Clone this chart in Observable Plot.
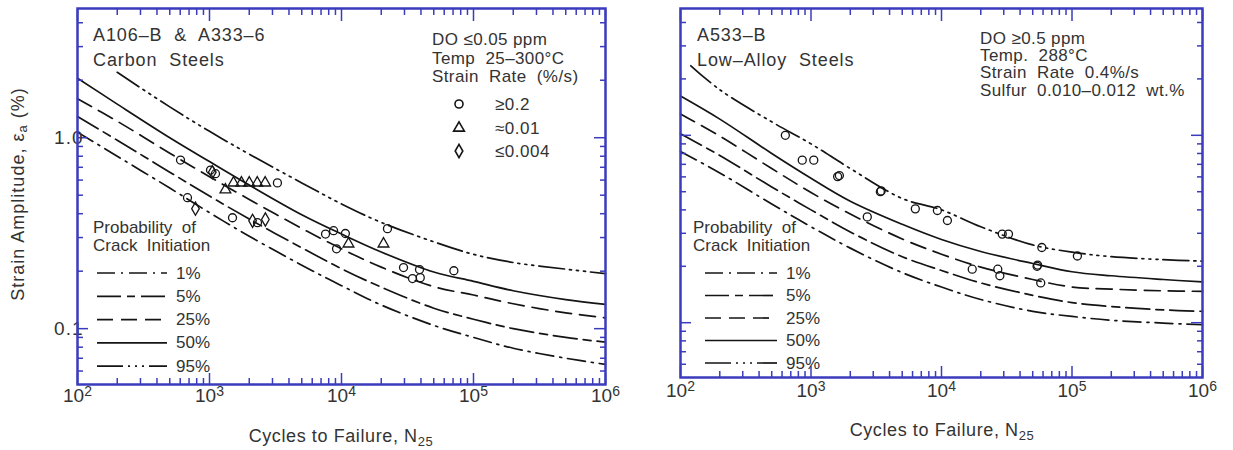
<!DOCTYPE html>
<html>
<head>
<meta charset="utf-8">
<script src="https://cdn.jsdelivr.net/npm/d3@7"></script>
<script src="https://cdn.jsdelivr.net/npm/@observablehq/plot@0.6"></script>
<style>
html,body{margin:0;padding:0;background:#fff;}
#wrap{display:flex;width:1233px;height:450px;overflow:hidden;background:#fff;}
#wrap svg{display:block;flex:none;}
</style>
</head>
<body>
<div id="wrap"></div>
<script>
// ---------------- data ----------------
const curveCycles    = [100, 200, 500, 1000, 2000, 5000, 1e4, 2e4, 5e4, 1e5, 2e5, 5e5, 1e6];
const carbon95Cycles = [200, 500, 1000, 2000, 5000, 1e4, 2e4, 5e4, 1e5, 2e5, 5e5, 1e6];
const alloy95Cycles  = [120, 200, 500, 1000, 2000, 5000, 1e4, 2e4, 5e4, 1e5, 2e5, 5e5, 1e6];
const probLabels = ["1%", "5%", "25%", "50%", "95%"];

// Carbon steels (left panel), strain amplitude %
const carbonP1  = [1.07, 0.80, 0.545, 0.405, 0.305, 0.215, 0.168, 0.133, 0.104, 0.090, 0.079, 0.070, 0.065];
const carbonP5  = [1.29, 0.97, 0.66, 0.495, 0.375, 0.265, 0.206, 0.165, 0.128, 0.112, 0.100, 0.090, 0.085];
const carbonP25 = [1.60, 1.22, 0.83, 0.625, 0.475, 0.335, 0.262, 0.210, 0.166, 0.150, 0.135, 0.121, 0.114];
const carbonP50 = [2.05, 1.50, 1.00, 0.75, 0.565, 0.395, 0.313, 0.252, 0.198, 0.177, 0.158, 0.142, 0.134];
const carbonP95 = [2.20, 1.45, 1.08, 0.82, 0.58, 0.45, 0.36, 0.285, 0.245, 0.222, 0.205, 0.194];

// Low-alloy steels (right panel)
const alloyP1  = [0.82, 0.63, 0.43, 0.325, 0.25, 0.185, 0.155, 0.133, 0.115, 0.108, 0.103, 0.0995, 0.0975];
const alloyP5  = [1.02, 0.78, 0.53, 0.40, 0.305, 0.225, 0.19, 0.163, 0.140, 0.128, 0.122, 0.117, 0.115];
const alloyP25 = [1.30, 0.99, 0.665, 0.495, 0.38, 0.28, 0.232, 0.198, 0.170, 0.155, 0.151, 0.148, 0.147];
const alloyP50 = [1.62, 1.22, 0.80, 0.59, 0.445, 0.335, 0.278, 0.24, 0.207, 0.187, 0.178, 0.170, 0.165];
const alloyP95 = [2.35, 1.75, 1.18, 0.90, 0.665, 0.46, 0.40, 0.325, 0.26, 0.238, 0.225, 0.217, 0.213];

// test points [cycles, strain %]
const carbonCircles = [[603,0.764],[1018,0.677],[1110,0.648],[681,0.485],[1494,0.381],[2310,0.359],[3270,0.58],
  [7570,0.313],[8710,0.326],[10700,0.315],[9170,0.262],[22300,0.334],[29500,0.209],[34500,0.183],
  [39000,0.204],[39500,0.185],[71000,0.201]];
const carbonTriangles = [[1320,0.534],[1520,0.58],[1745,0.58],[2000,0.58],[2300,0.58],[2640,0.58],[11300,0.278],[20800,0.278]];
const carbonDiamonds = [[783,0.425],[1050,0.66],[2120,0.367],[2650,0.373]];
const alloyCircles = [[636,1.0],[857,0.737],[1050,0.737],[1600,0.602],[1650,0.61],[3400,0.50],[3450,0.505],
  [2700,0.367],[6300,0.405],[9300,0.397],[11100,0.351],[17200,0.193],[27000,0.193],[28000,0.178],
  [29200,0.297],[32600,0.297],[54000,0.20],[54500,0.203],[57600,0.163],[58700,0.252],[110000,0.227]];

// axes
const xMajor = [1e2, 1e3, 1e4, 1e5, 1e6];
const xTickExponents = ["2", "3", "4", "5", "6"];
const xMinor = [2e2,3e2,4e2,5e2,6e2,7e2,8e2,9e2, 2e3,3e3,4e3,5e3,6e3,7e3,8e3,9e3,
                2e4,3e4,4e4,5e4,6e4,7e4,8e4,9e4, 2e5,3e5,4e5,5e5,6e5,7e5,8e5,9e5];
const yMajor = [0.1, 1];
const yTickLabels = ["0.1", "1.0"];
const yMinor = [0.06,0.07,0.08,0.09, 0.2,0.3,0.4,0.5,0.6,0.7,0.8,0.9, 2,3,4];

// ---------------- styling ----------------
const FONT = "'Liberation Sans', Arial, Helvetica, sans-serif";
const BLUE = "#3b3bbd";
const INK = "#141414";
const TEXT = "#333";
const DASH = {"1%": "18,6,2,6", "5%": "24,6,8,6", "25%": "16,8", "50%": null, "95%": "26,5,2,5,2,5,2,5"};
const NS = "http://www.w3.org/2000/svg";

function series(cycles, values, label) {
  return {label, rows: cycles.map((n, i) => ({N: n, e: values[i]}))};
}

function panel(cfg) {
  const curveMarks = cfg.curves.map(c => Plot.line(c.rows, {
    x: "N", y: "e", curve: "catmull-rom", stroke: INK, strokeWidth: 1.7,
    strokeDasharray: DASH[c.label] || undefined
  }));
  const dotOpts = sym => ({x: d => d[0], y: d => d[1], symbol: sym, r: 4, stroke: INK, strokeWidth: 1.3, fill: "none"});
  const dotMarks = [
    cfg.circles ? Plot.dot(cfg.circles, dotOpts("circle")) : null,
    cfg.triangles ? Plot.dot(cfg.triangles, dotOpts("triangle")) : null,
    cfg.diamonds ? Plot.dot(cfg.diamonds, dotOpts("diamond")) : null
  ];
  const axisMarks = [
    Plot.axisX(xMajor, {anchor: "bottom", tickSize: -11, tickPadding: cfg.xPad, stroke: BLUE, strokeWidth: 1.5, fill: TEXT, fontSize: 19,
      tickFormat: d => "10^" + xTickExponents[xMajor.indexOf(d)], label: null}),
    Plot.axisX(xMinor, {anchor: "bottom", tickSize: -6, stroke: BLUE, strokeWidth: 1.5, tickFormat: () => "", label: null}),
    Plot.axisX(xMajor, {anchor: "top", tickSize: -12, stroke: BLUE, strokeWidth: 1.5, tickFormat: () => "", label: null}),
    Plot.axisX(xMinor, {anchor: "top", tickSize: -6, stroke: BLUE, strokeWidth: 1.5, tickFormat: () => "", label: null}),
    Plot.axisY(yMajor, {anchor: "left", tickSize: -11, tickPadding: 5, stroke: BLUE, strokeWidth: 1.5, fill: TEXT, fontSize: 19,
      tickFormat: d => cfg.yLabels ? yTickLabels[yMajor.indexOf(d)] : "", label: null}),
    Plot.axisY(yMinor, {anchor: "left", tickSize: -6, stroke: BLUE, strokeWidth: 1.5, tickFormat: () => "", label: null}),
    Plot.axisY(yMajor, {anchor: "right", tickSize: -12, stroke: BLUE, strokeWidth: 1.5, tickFormat: () => "", label: null}),
    Plot.axisY(yMinor, {anchor: "right", tickSize: -6, stroke: BLUE, strokeWidth: 1.5, tickFormat: () => "", label: null})
  ];
  const svg = Plot.plot({
    width: cfg.width, height: 450,
    marginLeft: cfg.marginLeft, marginRight: cfg.marginRight, marginTop: cfg.marginTop, marginBottom: cfg.marginBottom,
    x: {type: "log", domain: [100, 1e6], axis: null},
    y: {type: "log", domain: [0.051, 4.75], axis: null},
    style: {fontFamily: FONT, background: "transparent", color: TEXT, overflow: "visible"},
    marks: [...curveMarks, ...dotMarks, ...axisMarks, Plot.frame({stroke: BLUE, strokeWidth: 2.5})]
  });

  // superscripted decade labels
  svg.querySelectorAll("text").forEach(t => {
    const m = /^10\^(\d)$/.exec(t.textContent);
    if (m) {
      t.textContent = "10";
      const ts = document.createElementNS(NS, "tspan");
      ts.setAttribute("dy", "-6");
      ts.setAttribute("font-size", "14");
      ts.textContent = m[1];
      t.appendChild(ts);
    }
  });
  svg.querySelectorAll("text").forEach(t => {
    if (/^(0\.1|1\.0)$/.test(t.textContent)) t.setAttribute("letter-spacing", "1");
  });

  // annotations (layout only)
  const g = d3.select(svg).append("g")
    .attr("font-family", FONT).attr("fill", TEXT).style("white-space", "pre");
  function txt(x, y, parts, size, opts = {}) {
    const t = g.append("text").attr("x", x).attr("y", y).attr("font-size", size)
      .attr("dominant-baseline", "central").attr("text-anchor", opts.anchor || "start");
    if (opts.ls) t.attr("letter-spacing", opts.ls);
    if (opts.rotate) t.attr("transform", `rotate(${opts.rotate},${x},${y})`);
    if (typeof parts === "string") t.text(parts);
    else parts.forEach(p => {
      const s = t.append("tspan").text(p[0]);
      if (p[1]) s.attr("dy", p[1]);
      if (p[2]) s.attr("font-size", p[2]);
    });
    return t;
  }
  cfg.titles.forEach(d => txt(d[0], d[1], d[2], 18, {ls: 0.9}));
  cfg.conds.forEach(d => txt(d[0], d[1], d[2], 17, {ls: 0.4}));
  if (cfg.symLegend) {
    const syms = {circle: d3.symbolCircle, triangle: d3.symbolTriangle, diamond: d3.symbolDiamond};
    cfg.symLegend.forEach(d => {
      g.append("path").attr("d", d3.symbol(syms[d.sym], 16 * Math.PI)())
        .attr("transform", `translate(${d.x},${d.y})`)
        .attr("fill", "none").attr("stroke", INK).attr("stroke-width", 1.6);
      txt(d.x + 36, d.y, d.text, 17, {ls: 0.5});
    });
  }
  const L = cfg.legend;
  txt(L.tx, L.ty, "Probability  of", 17);
  txt(L.tx, L.ty + 18, "Crack  Initiation", 17);
  probLabels.forEach((p, i) => {
    const y = L.y0 + i * L.dy;
    const line = g.append("line").attr("x1", L.x0).attr("x2", L.x1).attr("y1", y).attr("y2", y)
      .attr("stroke", INK).attr("stroke-width", 1.7);
    if (DASH[p]) line.attr("stroke-dasharray", DASH[p]);
    txt(L.x1 + 9, y, p, 17);
  });
  // axis titles
  txt(cfg.xLabel[0], cfg.xLabel[1], [["Cycles to Failure, N"], ["25", 5, 13]], 18, {anchor: "middle", ls: 0.6});
  if (cfg.yLabel) txt(cfg.yLabel[0], cfg.yLabel[1], [["Strain Amplitude, ε"], ["a", 4, 13], [" (%)", -4, 18]], 18, {anchor: "middle", rotate: -90, ls: 1});
  return svg;
}

const wrap = document.getElementById("wrap");

wrap.appendChild(panel({
  width: 616, marginLeft: 77, marginRight: 11, marginTop: 8, marginBottom: 66, xPad: 15, yLabels: true,
  curves: [series(curveCycles, carbonP1, "1%"), series(curveCycles, carbonP5, "5%"), series(curveCycles, carbonP25, "25%"),
           series(curveCycles, carbonP50, "50%"), series(carbon95Cycles, carbonP95, "95%")],
  circles: carbonCircles, triangles: carbonTriangles, diamonds: carbonDiamonds,
  titles: [[93, 35, "A106–B  &  A333–6"], [93, 60, "Carbon  Steels"]],
  conds: [[432, 39, "DO ≤0.05 ppm"], [432, 58, "Temp  25–300°C"], [432, 76, "Strain  Rate  (%/s)"]],
  symLegend: [{sym: "circle", x: 459, y: 104, text: "≥0.2"}, {sym: "triangle", x: 459, y: 128, text: "≈0.01"},
              {sym: "diamond", x: 459, y: 151, text: "≤0.004"}],
  legend: {tx: 93, ty: 227, x0: 97, x1: 167, y0: 273, dy: 23.3},
  xLabel: [341, 436], yLabel: [18, 194]
}));

wrap.appendChild(panel({
  width: 617, marginLeft: 64, marginRight: 31, marginTop: 8, marginBottom: 73, xPad: 17, yLabels: false,
  curves: [series(curveCycles, alloyP1, "1%"), series(curveCycles, alloyP5, "5%"), series(curveCycles, alloyP25, "25%"),
           series(curveCycles, alloyP50, "50%"), series(alloy95Cycles, alloyP95, "95%")],
  circles: alloyCircles,
  titles: [[81, 35, "A533–B"], [81, 60, "Low–Alloy  Steels"]],
  conds: [[364, 38, "DO ≥0.5 ppm"], [364, 55, "Temp.  288°C"], [364, 72, "Strain  Rate  0.4%/s"], [364, 90, "Sulfur  0.010–0.012  wt.%"]],
  symLegend: null,
  legend: {tx: 77, ty: 227, x0: 89, x1: 161, y0: 273, dy: 22.5},
  xLabel: [326, 430], yLabel: null
}));
</script>
</body>
</html>
